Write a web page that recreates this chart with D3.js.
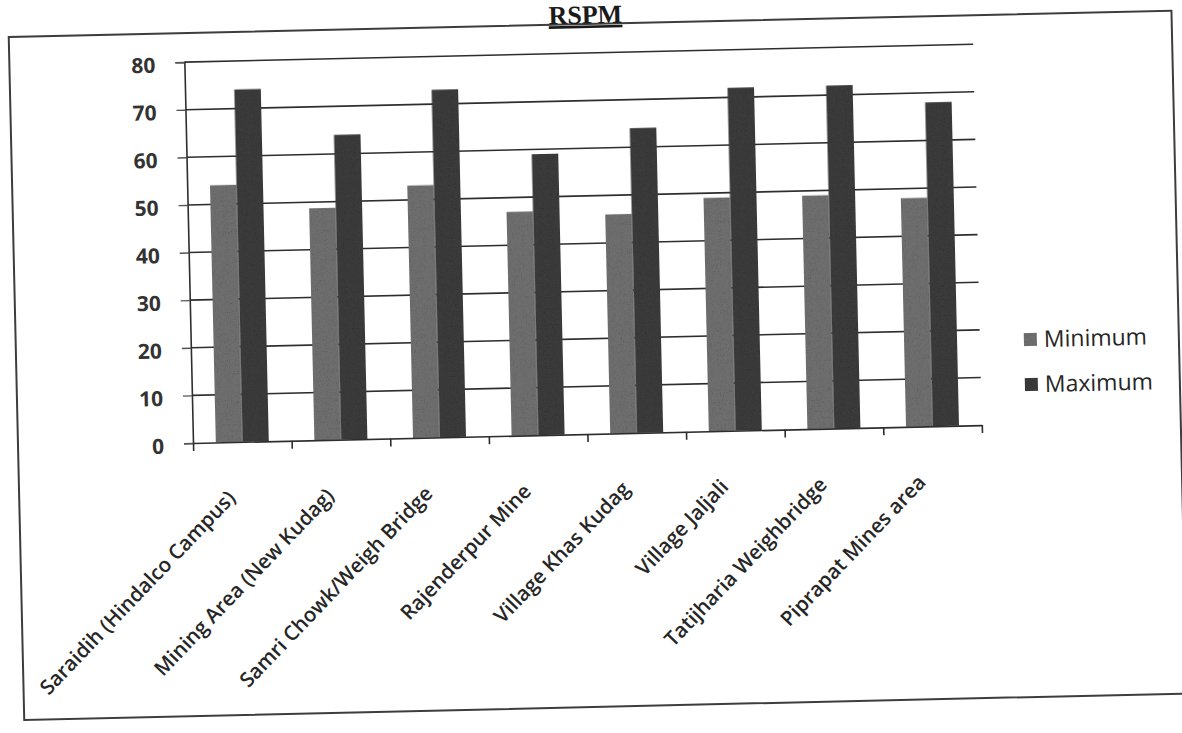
<!DOCTYPE html>
<html>
<head>
<meta charset="utf-8">
<script src="https://cdn.jsdelivr.net/npm/d3@7/dist/d3.min.js"></script>
<style>
  html, body { margin: 0; padding: 0; background: #ffffff; }
  svg { display: block; }
</style>
</head>
<body>
<svg id="chart" width="1182" height="733"></svg>
<script>
// RSPM concentrations (µg/m³) at monitoring stations
const categories = [
  "Saraidih (Hindalco Campus)",
  "Mining Area (New Kudag)",
  "Samri Chowk/Weigh Bridge",
  "Rajenderpur Mine",
  "Village Khas Kudag",
  "Village Jaljali",
  "Tatijharia Weighbridge",
  "Piprapat Mines area"
];
const minimumValues = [54, 48.7, 53, 47, 46, 49, 49, 48];
const maximumValues = [74, 64, 73, 59, 64, 72, 72, 68];
const seriesNames = ["Minimum", "Maximum"];
const yTicks = [0, 10, 20, 30, 40, 50, 60, 70, 80];

const seriesColors = { Minimum: "#6e6e6e", Maximum: "#3a3a3a" };

const svg = d3.select("#chart");

// grainy texture for the bar fills
const defs = svg.append("defs");
const grain = defs.append("filter").attr("id", "grain")
  .attr("x", 0).attr("y", 0).attr("width", 1).attr("height", 1);
grain.append("feTurbulence").attr("type", "fractalNoise")
  .attr("baseFrequency", 0.9).attr("numOctaves", 2).attr("seed", 7).attr("result", "noise");
grain.append("feColorMatrix").attr("in", "noise").attr("type", "matrix")
  .attr("values", "0.33 0.33 0.33 0 0  0.33 0.33 0.33 0 0  0.33 0.33 0.33 0 0  0 0 0 0 1")
  .attr("result", "gray");
const ct = grain.append("feComponentTransfer").attr("in", "gray").attr("result", "shade");
["feFuncR", "feFuncG", "feFuncB"].forEach(f =>
  ct.append(f).attr("type", "linear").attr("slope", 1.6).attr("intercept", 0.2));
grain.append("feComposite").attr("in", "shade").attr("in2", "SourceGraphic")
  .attr("operator", "arithmetic").attr("k1", 1).attr("k2", 0).attr("k3", 0).attr("k4", 0);

// plot area geometry
const plot = { left: 193, top: 62, right: 982, bottom: 443 };

// the whole sheet sits at a slight tilt
const sheet = svg.append("g")
  .attr("transform", `rotate(-1.3, ${plot.left}, ${plot.bottom})`);

// outer chart frame
sheet.append("rect")
  .attr("x", 18).attr("y", 33).attr("width", 1163).attr("height", 683)
  .attr("fill", "none").attr("stroke", "#3d3d3d").attr("stroke-width", 2);

// title
sheet.append("text")
  .attr("x", 595).attr("y", 32.5)
  .attr("text-anchor", "middle")
  .attr("font-family", "Liberation Serif, Times New Roman, serif")
  .attr("font-weight", "bold").attr("font-size", 26)
  .attr("fill", "#1a1a1a")
  .attr("text-decoration", "underline")
  .text("RSPM");

const y = d3.scaleLinear().domain([0, 80]).range([plot.bottom, plot.top]);
const x0 = d3.scaleBand().domain(categories).range([plot.left, plot.right])
  .paddingInner(0.4625).paddingOuter(0.23125);
const x1 = d3.scaleBand().domain(seriesNames).range([0, x0.bandwidth()]);
const xEdges = d3.scaleLinear().domain([0, categories.length]).range([plot.left, plot.right]);

// horizontal gridlines
sheet.append("g").selectAll("line")
  .data(yTicks.filter(t => t > 0))
  .join("line")
  .attr("x1", plot.left).attr("x2", plot.right)
  .attr("y1", d => y(d)).attr("y2", d => y(d))
  .attr("stroke", "#2e2e2e").attr("stroke-width", 1.6);

// bars
const groups = sheet.append("g").selectAll("g")
  .data(categories.map((c, i) => ({ c, vals: [minimumValues[i], maximumValues[i]] })))
  .join("g")
  .attr("transform", d => `translate(${x0(d.c)},0)`);

groups.selectAll("rect")
  .data(d => d.vals.map((v, j) => ({ key: seriesNames[j], v })))
  .join("rect")
  .attr("x", d => x1(d.key))
  .attr("width", x1.bandwidth())
  .attr("y", d => y(d.v))
  .attr("height", d => y(0) - y(d.v))
  .attr("fill", d => seriesColors[d.key])
  .attr("filter", "url(#grain)");

// y axis
const yAxis = sheet.append("g")
  .attr("transform", `translate(${plot.left},0)`)
  .call(d3.axisLeft(y).tickValues(yTicks).tickSize(9).tickPadding(20));
yAxis.select(".domain").attr("stroke", "#2e2e2e").attr("stroke-width", 1.6);
yAxis.selectAll(".tick line").attr("stroke", "#555").attr("stroke-width", 1.4);
yAxis.selectAll(".tick text")
  .attr("font-family", "Open Sans, DejaVu Sans, sans-serif")
  .attr("font-weight", "bold").attr("font-size", 21)
  .attr("fill", "#333").attr("dy", "0.45em");

// x axis line with ticks at category boundaries
const xAxis = sheet.append("g")
  .attr("transform", `translate(0,${plot.bottom})`)
  .call(d3.axisBottom(xEdges).tickValues(d3.range(categories.length + 1))
    .tickSize(8).tickSizeOuter(0).tickFormat(""));
xAxis.select(".domain").attr("stroke", "#2e2e2e").attr("stroke-width", 1.6);
xAxis.selectAll(".tick line").attr("stroke", "#2e2e2e").attr("stroke-width", 1.6);

// category labels, slanted
sheet.append("g").selectAll("text")
  .data(categories)
  .join("text")
  .attr("transform", d => `translate(${x0(d) + x0.bandwidth() / 2 - 12},${plot.bottom + 52}) rotate(-45)`)
  .attr("text-anchor", "end")
  .attr("dy", "0.35em")
  .attr("font-family", "Open Sans, DejaVu Sans, sans-serif")
  .attr("font-weight", 600)
  .attr("font-size", 20.5)
  .attr("fill", "#262626")
  .text(d => d);

// legend
const legend = sheet.append("g").selectAll("g")
  .data(seriesNames)
  .join("g")
  .attr("transform", (d, i) => `translate(1026,${358 + i * 45})`);
legend.append("rect")
  .attr("x", 0).attr("y", -6).attr("width", 13).attr("height", 13)
  .attr("fill", d => seriesColors[d]).attr("filter", "url(#grain)");
legend.append("text")
  .attr("x", 20).attr("dy", "0.36em")
  .attr("font-family", "Open Sans, DejaVu Sans, sans-serif")
  .attr("font-size", 23)
  .attr("fill", "#262626")
  .text(d => d);
</script>
</body>
</html>
